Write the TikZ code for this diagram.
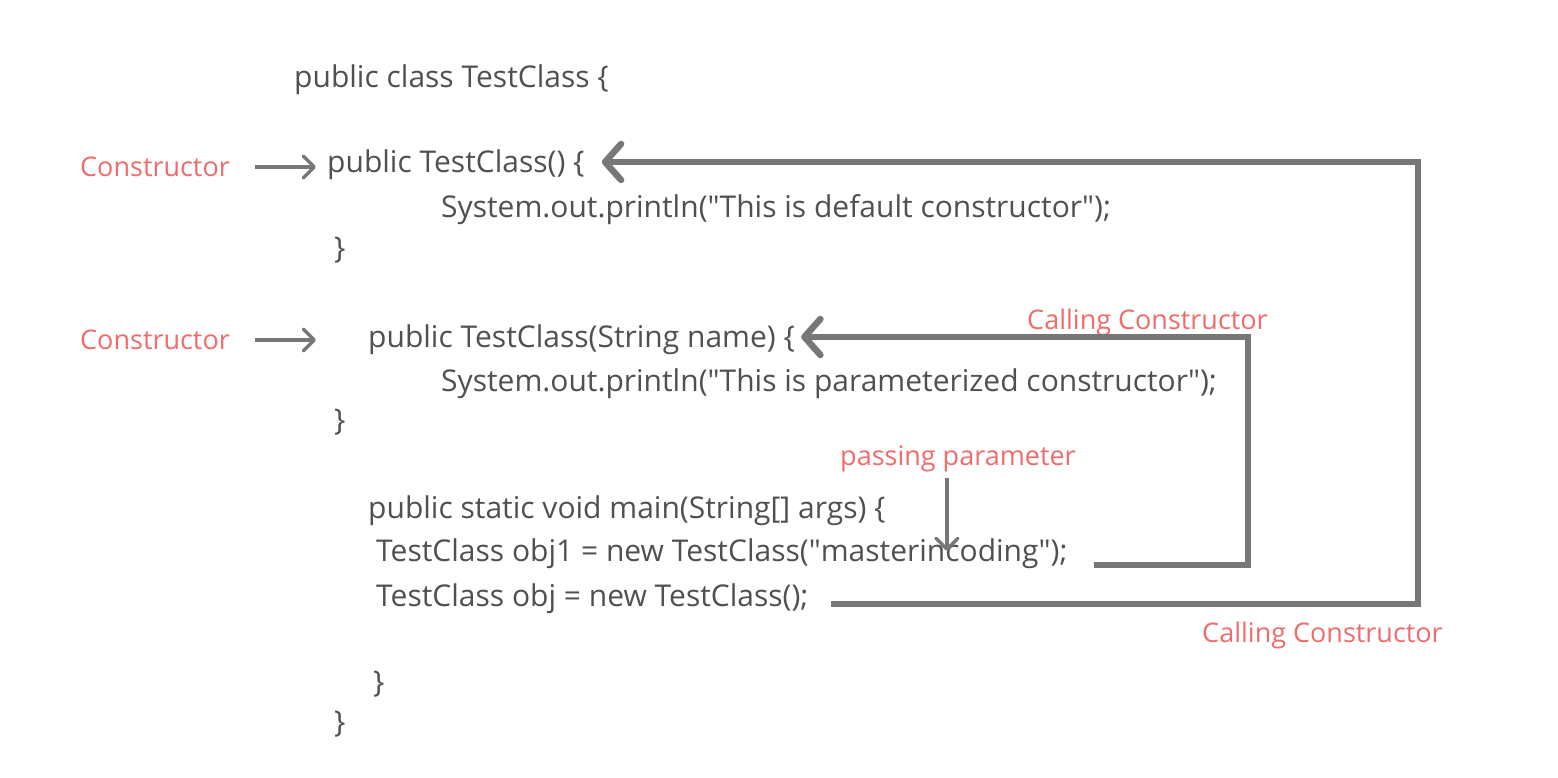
\documentclass[tikz,border=0pt]{standalone}
\usepackage{fontspec}
\setmainfont{Open Sans}
\usetikzlibrary{arrows.meta}
\definecolor{codegray}{HTML}{505050}
\definecolor{notered}{HTML}{F06B6B}
\definecolor{arrowgray}{HTML}{777777}
\newcommand{\qq}{\textquotedbl}

\begin{document}
\begin{tikzpicture}[x=1pt,y=-1pt,
	code/.style={anchor=west, inner sep=0pt, text height=21pt, text depth=0pt, font=\fontsize{30}{36}\selectfont, text=codegray},
	note/.style={anchor=west, inner sep=0pt, text height=19pt, text depth=0pt, font=\fontsize{27}{32}\selectfont, text=notered},
	thinarrow/.style={draw=arrowgray, line width=3.5pt, -{Straight Barb[length=11pt,width=22pt,round]}},
	bigarrow/.style={draw=arrowgray, line width=6.5pt, -{Straight Barb[length=16pt,width=36pt,round]}}]
	\useasboundingbox (0,0) rectangle (1558,778);
	% the code
	\node[code] (head) at (294,77) {public class TestClass \{};
	\node[code] (ctorA) at (327,162) {public TestClass() \{};
	\node[code] (printA) at (441,207) {System.out.println(\qq This is default constructor\qq);};
	\node[code] (endA) at (334,248) {\}};
	\node[code] (ctorB) at (368,337) {public TestClass(String name) \{};
	\node[code] (printB) at (441,381) {System.out.println(\qq This is parameterized constructor\qq);};
	\node[code] (endB) at (334,420) {\}};
	\node[code] (main) at (368,508) {public static void main(String[] args) \{};
	\node[code] (objA) at (376,551) {TestClass obj1 = new TestClass(\qq masterincoding\qq);};
	\node[code] (objB) at (376,596) {TestClass obj = new TestClass();};
	\node[code] (endMain) at (373,682) {\}};
	\node[code] (endClass) at (334,722) {\}};
	% the notes
	\node[note] (lblA) at (80,167) {Constructor};
	\node[note] (lblB) at (80,340) {Constructor};
	\node[note] (callA) at (1027,320) {Calling Constructor};
	\node[note] (callB) at (1202,633) {Calling Constructor};
	\node[note] (pass) at (840,456) {passing parameter};
	% arrows
	\draw[thinarrow] ([xshift=25pt]lblA.east) -- ([xshift=-11pt]lblA.east -| ctorA.west);
	\draw[thinarrow] ([xshift=25pt]lblB.east) -- ([xshift=-52pt]lblB.east -| ctorB.west);
	\draw[thinarrow] ([xshift=-11pt,yshift=-12pt]pass.south) -- ([xshift=-11pt]pass.south |- objA.west);
	\coordinate (railA) at (1248,0);
	\coordinate (railB) at (1418,0);
	\coordinate (fromA) at ([xshift=26pt,yshift=-14pt]objA.east);
	\coordinate (fromB) at ([xshift=22pt,yshift=-8pt]objB.east);
	\draw[bigarrow] (fromA) -- (fromA -| railA) -- (railA |- ctorB.east) -- ([xshift=6pt]ctorB.east);
	\draw[bigarrow] (fromB) -- (fromB -| railB) -- (railB |- ctorA.east) -- ([xshift=17pt]ctorA.east);
\end{tikzpicture}
\end{document}
